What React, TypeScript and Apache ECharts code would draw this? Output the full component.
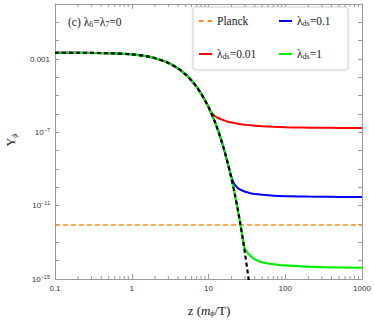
import React, { useEffect, useRef } from 'react';
import * as echarts from 'echarts';

const X_MIN = 0.1;
const X_MAX = 1000;
const Y_MIN = 1e-15;
const Y_MAX = 1;

// equilibrium abundance (black dashed)
const zEq = [0.1, 0.2, 0.5, 1, 1.5, 2, 3, 4, 5, 6, 7, 8, 9, 10, 11, 12, 13, 14, 15, 16, 18, 19, 20, 22, 24, 26, 28, 29, 30, 32, 34];
const yEq = [2.19e-3, 2.18e-3, 2.08e-3, 1.79e-3, 1.45e-3, 1.12e-3, 6.09e-4, 3.06e-4, 1.46e-4, 6.75e-5, 2.99e-5, 1.3e-5, 5.6e-6, 2.37e-6, 9.89e-7, 4.09e-7, 1.68e-7, 6.83e-8, 2.77e-8, 1.11e-8, 1.77e-9, 7.04e-10, 2.79e-10, 4.31e-11, 6.61e-12, 1.0e-12, 1.51e-13, 5.84e-14, 2.25e-14, 3.35e-15, 4.95e-16];

// Planck value
const planckY = 8.9e-13;

// freeze-out tails
const redLeave = 10;
const zRed = [10.5, 11, 11.5, 12, 13, 14, 16, 18, 20, 25, 30, 40, 50, 70, 100, 150, 200, 300, 500, 1000];
const yRed = [1.58e-6, 1.15e-6, 9.3e-7, 8.0e-7, 6.4e-7, 5.5e-7, 4.5e-7, 3.8e-7, 3.4e-7, 2.85e-7, 2.55e-7, 2.3e-7, 2.15e-7, 2.0e-7, 1.9e-7, 1.83e-7, 1.8e-7, 1.77e-7, 1.75e-7, 1.73e-7];

const blueLeave = 18;
const zBlue = [19, 20, 21, 22, 24, 26, 30, 35, 40, 50, 70, 100, 150, 200, 300, 500, 1000];
const yBlue = [7.3e-10, 3.4e-10, 2.0e-10, 1.4e-10, 9.3e-11, 7.4e-11, 5.7e-11, 4.8e-11, 4.3e-11, 3.9e-11, 3.5e-11, 3.3e-11, 3.2e-11, 3.12e-11, 3.05e-11, 3.0e-11, 2.97e-11];

const greenLeave = 28;
const zGreen = [29, 30, 31, 32, 34, 37, 40, 46, 60, 80, 100, 150, 200, 300, 500, 1000];
const yGreen = [6.8e-14, 4.4e-14, 3.4e-14, 2.8e-14, 2.1e-14, 1.5e-14, 1.2e-14, 9e-15, 7e-15, 6e-15, 5.5e-15, 5e-15, 4.7e-15, 4.45e-15, 4.25e-15, 4.1e-15];

const xMinorTicks = [0.2, 0.3, 0.4, 0.5, 0.6, 0.7, 0.8, 0.9, 2, 3, 4, 5, 6, 7, 8, 9, 20, 30, 40, 50, 60, 70, 80, 90, 200, 300, 400, 500, 600, 700, 800, 900];

// y tick labels: 10^-15, 10^-11, 10^-7, 0.001
const yLabelExponents = [-15, -11, -7, -3];

const legendNames = ['Planck', 'λds=0.1', 'λds=0.01', 'λds=1'];

const SERIF = 'Liberation Serif';
const SANS = 'Liberation Sans';
const AXIS_COLOR = '#9a9a9a';

const SOLID_ICON = 'path://M0,0H13V2H0Z';
const DASH_ICON = 'path://M0,0H4.5V2H0Z M8.5,0H13V2H8.5Z';

function eqUpTo(zCut: number): number[][] {
  const out: number[][] = [];
  zEq.forEach((z, i) => {
    if (z <= zCut) out.push([z, yEq[i]]);
  });
  return out;
}

function tail(zs: number[], ys: number[]): number[][] {
  return zs.map((z, i) => [z, ys[i]]);
}

export default function App() {
  const ref = useRef<HTMLDivElement>(null);
  useEffect(() => {
    if (!ref.current) return;
    const chart = echarts.init(ref.current, undefined, { renderer: 'svg' });

    const yLabelFormatter = (v: number) => {
      const e = Math.round(Math.log10(v));
      if (yLabelExponents.indexOf(e) < 0) return '';
      if (e === -3) return '{n|0.001}';
      return `{n|10}{s|${e < 0 ? '−' : ''}${Math.abs(e)}}`;
    };

    const commonX = {
      type: 'log' as const,
      logBase: 10,
      min: X_MIN,
      max: X_MAX,
      splitLine: { show: false },
      axisLine: { show: true, lineStyle: { color: AXIS_COLOR, width: 1 } },
      axisTick: { show: true, inside: true, length: 5, lineStyle: { color: AXIS_COLOR } },
    };
    const commonY = {
      type: 'log' as const,
      logBase: 10,
      min: Y_MIN,
      max: Y_MAX,
      interval: 1,
      splitLine: { show: false },
      axisLine: { show: true, lineStyle: { color: AXIS_COLOR, width: 1 } },
      axisTick: { show: true, inside: true, length: 4, lineStyle: { color: AXIS_COLOR } },
    };

    const lineBase = {
      type: 'line' as const,
      showSymbol: false,
      symbol: 'none',
      smooth: 0.3,
      xAxisIndex: 0,
      yAxisIndex: 0,
      z: 3,
    };

    chart.setOption({
      animation: false,
      grid: { left: 55, right: 12, top: 4, bottom: 43, containLabel: false },
      xAxis: [
        {
          ...commonX,
          position: 'bottom',
          axisLabel: {
            show: true,
            margin: 5,
            fontSize: 8,
            fontFamily: SANS,
            color: '#333',
            formatter: (v: number) => String(Number(v.toPrecision(3))),
          },
        },
        {
          ...commonX,
          position: 'top',
          axisLabel: { show: false },
        },
      ],
      yAxis: [
        {
          ...commonY,
          position: 'left',
          axisLabel: {
            show: true,
            margin: 5,
            formatter: yLabelFormatter,
            rich: {
              n: { fontSize: 8, fontFamily: SANS, color: '#333' },
              s: { fontSize: 5.5, fontFamily: SANS, color: '#333', padding: [0, 0, 5, 0] },
            },
          },
        },
        {
          ...commonY,
          position: 'right',
          axisLabel: { show: false },
        },
      ],
      legend: {
        data: [
          { name: legendNames[0], icon: DASH_ICON },
          { name: legendNames[1], icon: SOLID_ICON },
          { name: legendNames[2], icon: SOLID_ICON },
          { name: legendNames[3], icon: SOLID_ICON },
        ],
        left: 193,
        top: 7,
        width: 150,
        orient: 'horizontal',
        padding: [6, 6, 8, 6],
        itemGap: 17,
        itemWidth: 13,
        itemHeight: 2,
        backgroundColor: '#fff',
        borderColor: '#cfcfcf',
        borderWidth: 1,
        borderRadius: 3,
        shadowColor: 'rgba(0,0,0,0.12)',
        shadowBlur: 2,
        formatter: (name: string) => name.replace('λds', 'λ{sub|ds}'),
        textStyle: {
          fontFamily: SERIF,
          fontSize: 11.5,
          color: '#1a1a1a',
          width: 45,
          lineHeight: 16,
          rich: {
            sub: { fontFamily: SERIF, fontSize: 8, color: '#1a1a1a', padding: [5, 0, 0, 0] },
          },
        },
      },
      graphic: [
        {
          type: 'text',
          left: 68,
          top: 16,
          style: {
            text: '(c) λ{sub|6}=λ{sub|7}=0',
            fontFamily: SERIF,
            fontSize: 11.5,
            fill: '#1a1a1a',
            rich: {
              sub: { fontFamily: SERIF, fontSize: 8, fill: '#1a1a1a', padding: [5, 0, 0, 0] },
            },
          },
        },
        {
          type: 'text',
          x: 11,
          y: 140,
          rotation: Math.PI / 2,
          style: {
            text: 'Y{sub|ϕ}',
            fontFamily: SERIF,
            fontSize: 12,
            fill: '#1a1a1a',
            align: 'center',
            verticalAlign: 'middle',
            rich: {
              sub: { fontFamily: SERIF, fontSize: 8, fontStyle: 'italic', fill: '#1a1a1a', padding: [6, 0, 0, 0] },
            },
          },
        },
        {
          type: 'text',
          x: 209,
          y: 310,
          style: {
            text: 'z ({i|m}{sub|ϕ}/T)',
            fontFamily: SERIF,
            fontSize: 13,
            fill: '#1a1a1a',
            align: 'center',
            verticalAlign: 'middle',
            rich: {
              i: { fontFamily: SERIF, fontSize: 13, fontStyle: 'italic', fill: '#1a1a1a' },
              sub: { fontFamily: SERIF, fontSize: 8, fontStyle: 'italic', fill: '#1a1a1a', padding: [6, 0, 0, 0] },
            },
          },
        },
      ],
      series: [
        {
          ...lineBase,
          name: 'Planck',
          smooth: false,
          data: [[X_MIN, planckY], [X_MAX, planckY]],
          lineStyle: { color: '#ff8a1c', width: 1.6, type: [5, 3] },
          itemStyle: { color: '#ff8a1c' },
          z: 2,
        },
        {
          ...lineBase,
          name: 'λds=0.01',
          data: [...eqUpTo(redLeave), ...tail(zRed, yRed)],
          lineStyle: { color: '#ff0000', width: 2 },
          itemStyle: { color: '#ff0000' },
        },
        {
          ...lineBase,
          name: 'λds=0.1',
          data: [...eqUpTo(blueLeave), ...tail(zBlue, yBlue)],
          lineStyle: { color: '#0000ff', width: 2 },
          itemStyle: { color: '#0000ff' },
        },
        {
          ...lineBase,
          name: 'λds=1',
          data: [...eqUpTo(greenLeave), ...tail(zGreen, yGreen)],
          lineStyle: { color: '#00f000', width: 2.2 },
          itemStyle: { color: '#00f000' },
        },
        {
          ...lineBase,
          name: 'equilibrium',
          data: eqUpTo(Infinity),
          lineStyle: { color: '#000000', width: 2.2, type: [4, 3] },
          itemStyle: { color: '#000' },
          z: 4,
        },
        {
          type: 'custom',
          name: 'minorTicks',
          xAxisIndex: 0,
          yAxisIndex: 0,
          silent: true,
          data: xMinorTicks.map((v) => [v, Y_MIN]),
          renderItem: (_params: any, api: any) => {
            const v = api.value(0);
            const b = api.coord([v, Y_MIN]);
            const t = api.coord([v, Y_MAX]);
            const st = { stroke: AXIS_COLOR, lineWidth: 1 };
            return {
              type: 'group',
              children: [
                { type: 'line', shape: { x1: b[0], y1: b[1], x2: b[0], y2: b[1] - 3 }, style: st },
                { type: 'line', shape: { x1: t[0], y1: t[1], x2: t[0], y2: t[1] + 3 }, style: st },
              ],
            };
          },
          z: 5,
        },
      ],
    });

    return () => chart.dispose();
  }, []);

  return (
    <div
      ref={ref}
      style={{ position: 'fixed', left: 0, top: 0, width: 374, height: 322, background: '#fff' }}
    />
  );
}
